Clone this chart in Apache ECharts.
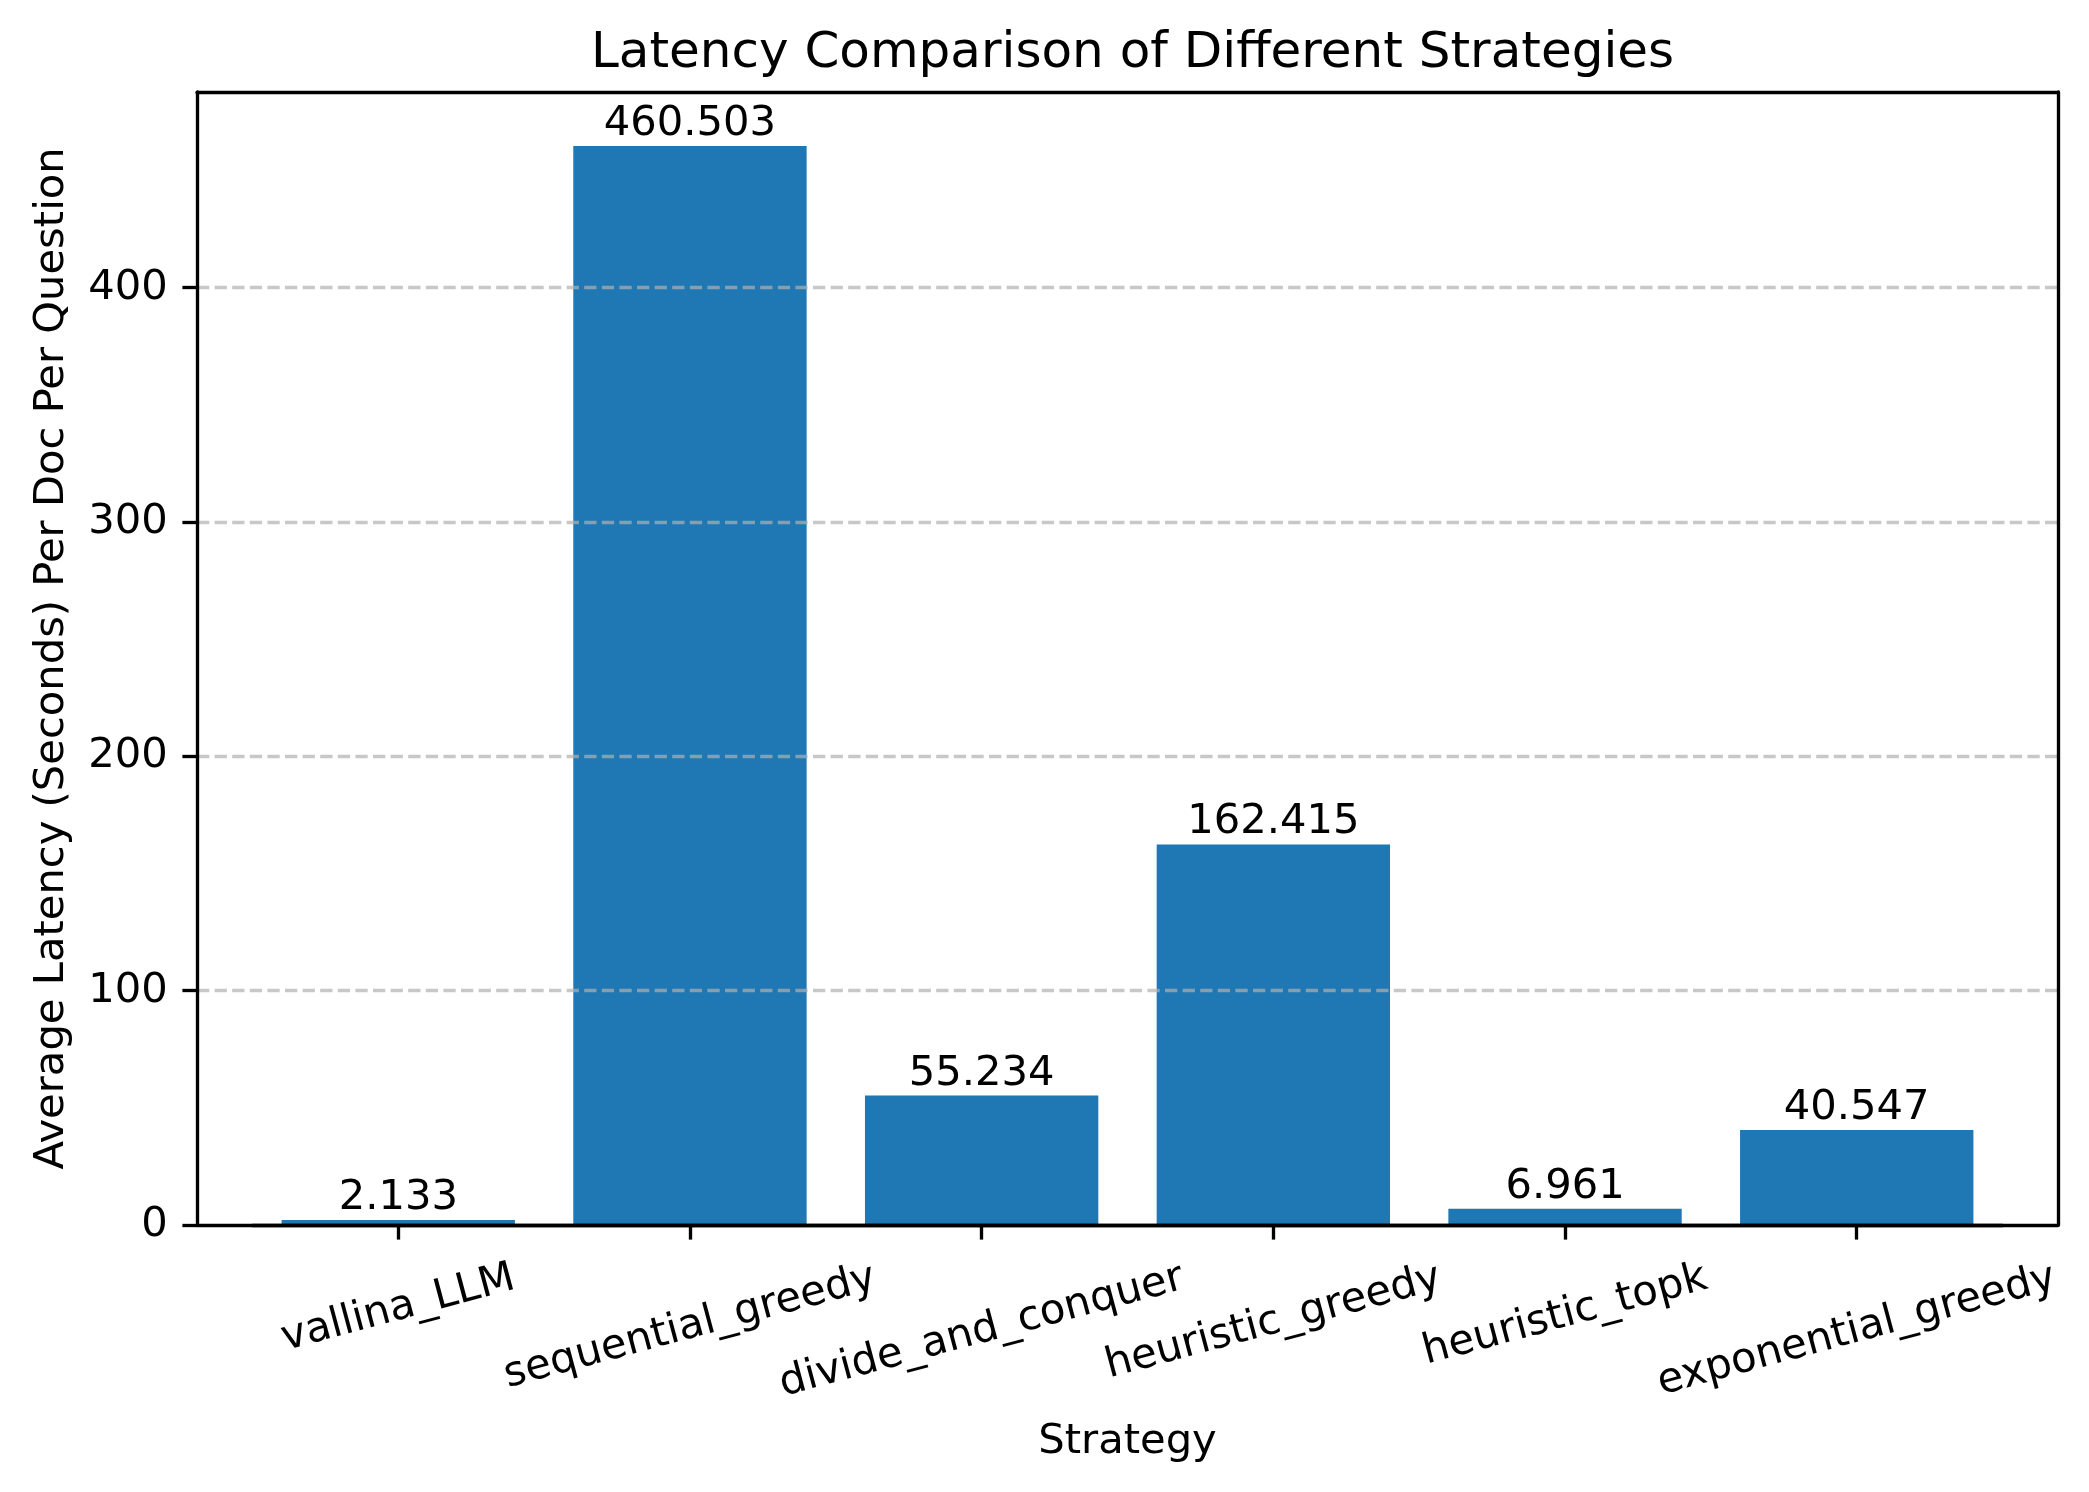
<!DOCTYPE html>
<html><head><meta charset="utf-8">
<script src="https://cdn.jsdelivr.net/npm/echarts@6/dist/echarts.min.js"></script>
<style>html,body{margin:0;padding:0;background:#fff}#c{width:2089px;height:1492px}</style>
</head><body><div id="c"></div>
<script>
const categories = ['vallina_LLM', 'sequential_greedy', 'divide_and_conquer', 'heuristic_greedy', 'heuristic_topk', 'exponential_greedy'];
const latency = [2.133, 460.503, 55.234, 162.415, 6.961, 40.547];
const yTicks = [0, 100, 200, 300, 400];

const W = 2089, H = 1492;
const FONT = 'DejaVu Sans';
const fs = 41.67, titleFs = 50, lw = 3.33, tickLen = 14.6;
const plot = {left: 197, right: 2058, top: 92, bottom: 1225};
const yMax = Math.max(...latency) * 1.05;
const barW = 0.8, n = categories.length;
const xMargin = 0.05 * ((n - 1) + barW);
const xMin = -barW / 2 - xMargin, xMax = (n - 1) + barW / 2 + xMargin;
const unit = (plot.right - plot.left) / (xMax - xMin);
const bandLeft = plot.left + (-0.5 - xMin) * unit;
const bandRight = bandLeft + n * unit;

const ts = {fontFamily: FONT, fontSize: fs, color: '#000'};

// matplotlib-style rotated labels: rotated bbox top sits at a fixed distance below the axis
const ctx = document.createElement('canvas').getContext('2d');
ctx.font = fs + 'px "' + FONT + '"';
const rot = 15 * Math.PI / 180, s = Math.sin(rot), c = Math.cos(rot);
const textH = 1.164 * fs;
const rich = {};
categories.forEach((name, i) => {
  const w = ctx.measureText(name).width;
  const D = (w * s + textH * c) / 2;
  rich['r' + i] = Object.assign({lineHeight: fs, padding: [2 * D * c, 2 * D * s, 0, 0]}, ts);
});
const catData = categories.map(name => ({value: name, textStyle: {align: 'center', verticalAlign: 'middle'}}));

const frameLine = {show: true, onZero: false, lineStyle: {color: '#000', width: lw}};
const frameAxis = (grid, pos) => ({gridIndex: grid, type: 'value', min: 0, max: 1, position: pos, z: 4,
  axisLine: frameLine, axisTick: {show: false}, axisLabel: {show: false}, splitLine: {show: false}});

const option = {
  animation: false,
  backgroundColor: '#fff',
  title: {text: 'Latency Comparison of Different Strategies', left: (plot.left + plot.right) / 2, textAlign: 'center', top: 24,
    textStyle: {fontFamily: FONT, fontSize: titleFs, fontWeight: 'normal', color: '#000', lineHeight: titleFs}},
  grid: [
    {left: plot.left, right: W - plot.right, top: plot.top, bottom: H - plot.bottom, outerBoundsMode: 'none', containLabel: false},
    {left: bandLeft, right: W - bandRight, top: plot.top, bottom: H - plot.bottom, outerBoundsMode: 'none', containLabel: false}
  ],
  xAxis: [
    frameAxis(0, 'bottom'),
    frameAxis(0, 'top'),
    {gridIndex: 1, type: 'category', data: catData, position: 'bottom', z: 4,
      axisLine: frameLine,
      axisTick: {show: true, alignWithLabel: true, length: tickLen, lineStyle: {color: '#000', width: lw}},
      axisLabel: Object.assign({interval: 0, rotate: 15, margin: 29.2, lineHeight: fs, hideOverlap: false,
        formatter: (v, i) => '{r' + i + '|' + v + '}', rich: rich}, ts),
      splitLine: {show: false},
      name: 'Strategy', nameLocation: 'middle', nameGap: 196, nameMoveOverlap: false,
      nameTextStyle: Object.assign({lineHeight: fs, verticalAlign: 'top'}, ts)}
  ],
  yAxis: [
    {gridIndex: 0, type: 'value', min: 0, max: yMax, interval: 100, position: 'left', z: 3,
      axisLine: frameLine,
      axisTick: {show: true, length: tickLen, lineStyle: {color: '#000', width: lw}, customValues: yTicks},
      axisLabel: Object.assign({margin: 29.2, customValues: yTicks}, ts),
      splitLine: {show: true, showMinLine: false,
        lineStyle: {color: '#b0b0b0', opacity: 0.7, width: lw, type: [12.3, 5.3]}},
      name: 'Average Latency (Seconds) Per Doc Per Question', nameLocation: 'middle', nameGap: 124, nameRotate: 90,
      nameMoveOverlap: false,
      nameTextStyle: Object.assign({lineHeight: fs}, ts)},
    frameAxis(0, 'right'),
    {gridIndex: 1, type: 'value', min: 0, max: yMax, show: false}
  ],
  series: [{
    type: 'bar', xAxisIndex: 2, yAxisIndex: 2, data: latency, barWidth: '80%',
    itemStyle: {color: '#1f77b4'},
    label: Object.assign({show: true, position: 'top', distance: 1, lineHeight: fs,
      formatter: p => p.value.toFixed(3)}, ts)
  }]
};
const chart = echarts.init(document.getElementById('c'), null, {renderer: 'canvas', width: W, height: H});
chart.setOption(option);
</script></body></html>
